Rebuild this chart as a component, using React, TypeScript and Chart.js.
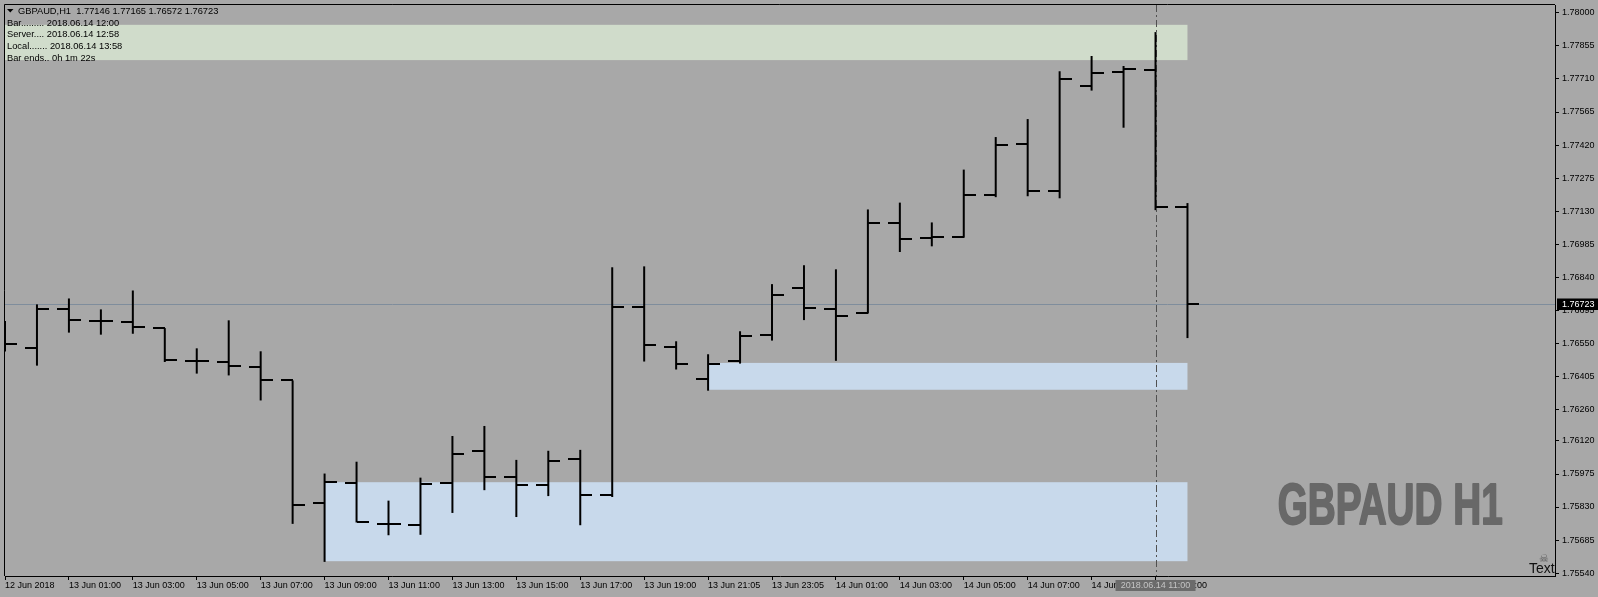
import React, { useEffect, useRef } from "react";
import { Chart, registerables } from "chart.js";

Chart.register(...registerables);

// ---- data (GBPAUD, H1) ----
const opens = [
  1.7656, 1.76529, 1.76699, 1.76647, 1.76644, 1.76616, 1.76472, 1.76469, 1.76446, 1.76386,
  1.75848, 1.75935, 1.75754, 1.7575, 1.75935, 1.76074, 1.7596, 1.75925, 1.76039, 1.75881,
  1.76708, 1.76533, 1.76394, 1.76472, 1.76587, 1.76793, 1.76701, 1.76683, 1.77077, 1.77011,
  1.77014, 1.77202, 1.77426, 1.7722, 1.77681, 1.77741, 1.77749, 1.77146,
];
const highs = [
  1.76647, 1.7672, 1.76746, 1.76698, 1.76781, 1.76616, 1.76527, 1.7665, 1.76514, 1.76386,
  1.75977, 1.76029, 1.75858, 1.75959, 1.76142, 1.76186, 1.76037, 1.76077, 1.76081, 1.76883,
  1.76887, 1.76558, 1.76501, 1.76602, 1.76809, 1.76892, 1.76874, 1.77137, 1.77167, 1.7708,
  1.77312, 1.77455, 1.77534, 1.77744, 1.77811, 1.77767, 1.77916, 1.77165,
];
const lows = [
  1.76513, 1.76451, 1.76596, 1.76587, 1.76591, 1.76467, 1.76416, 1.76408, 1.76298, 1.75756,
  1.75589, 1.75762, 1.75706, 1.75708, 1.75804, 1.75904, 1.75786, 1.75878, 1.7575, 1.75874,
  1.76469, 1.76434, 1.76341, 1.7646, 1.76561, 1.76651, 1.76472, 1.7668, 1.7695, 1.76975,
  1.77013, 1.77191, 1.77195, 1.77186, 1.77659, 1.77496, 1.77134, 1.76572,
];
const closes = [
  1.76548, 1.76699, 1.76651, 1.76647, 1.76621, 1.76476, 1.76472, 1.7645, 1.76389, 1.75841,
  1.75939, 1.75762, 1.75754, 1.75929, 1.76065, 1.75964, 1.75925, 1.7603, 1.75881, 1.76708,
  1.76542, 1.76459, 1.76459, 1.76581, 1.76762, 1.76705, 1.7667, 1.77077, 1.77006, 1.77016,
  1.77202, 1.77421, 1.7722, 1.7771, 1.77736, 1.77754, 1.77147, 1.76723,
];

const xTickIdx = [0, 2, 4, 6, 8, 10, 12, 14, 16, 18, 20, 22, 24, 26, 28, 30, 32, 34, 36];
const xTickLabels = [
  "12 Jun 2018", "13 Jun 01:00", "13 Jun 03:00", "13 Jun 05:00", "13 Jun 07:00",
  "13 Jun 09:00", "13 Jun 11:00", "13 Jun 13:00", "13 Jun 15:00", "13 Jun 17:00",
  "13 Jun 19:00", "13 Jun 21:05", "13 Jun 23:05", "14 Jun 01:00", "14 Jun 03:00",
  "14 Jun 05:00", "14 Jun 07:00", "14 Jun 09:00", "14 Jun 11:00",
];
const yTicks = [
  1.78, 1.77855, 1.7771, 1.77565, 1.7742, 1.77275, 1.7713, 1.76985, 1.7684, 1.76695,
  1.7655, 1.76405, 1.7626, 1.7612, 1.75975, 1.7583, 1.75685, 1.7554,
];

// rectangle objects
const zoneStart = [-1, 22, 10];
const zoneEnd = [37, 37, 37];
const zoneTop = [1.77948, 1.76463, 1.75939];
const zoneBottom = [1.77793, 1.76345, 1.75592];
const zoneColors = ["#d0dccb", "#c8d9eb", "#c8d9eb"];

const bidPrice = 1.76723;
const crossIdx = 36;
const crossLabel = "2018.06.14 11:00";
const headerLines = [
  "Bar......... 2018.06.14 12:00",
  "Server.... 2018.06.14 12:58",
  "Local....... 2018.06.14 13:58",
  "Bar ends.. 0h 1m 22s",
];
const titleText = "GBPAUD,H1  1.77146 1.77165 1.76572 1.76723";
const bigText = "GBPAUD H1";

const BG = "#a8a8a8";
const FONT = "'Liberation Sans', Arial, sans-serif";

export default function App() {
  const ref = useRef<HTMLCanvasElement>(null);

  useEffect(() => {
    const canvas = ref.current!;
    const mk = (left: boolean) => {
      const c = document.createElement("canvas");
      c.width = 24;
      c.height = 2;
      const g = c.getContext("2d")!;
      g.fillStyle = "#000";
      g.fillRect(left ? 0 : 12, 0, 12, 2);
      return c;
    };
    const openImg = mk(true);
    const closeImg = mk(false);
    const idx = highs.map((_, i) => i);

    const decor = {
      id: "decor",
      beforeDraw(chart: any) {
        const ctx = chart.ctx;
        ctx.save();
        ctx.fillStyle = BG;
        ctx.fillRect(0, 0, chart.width, chart.height);
        ctx.restore();
      },
      beforeDatasetsDraw(chart: any) {
        const { ctx, chartArea: a, scales } = chart;
        const xs = scales.x, ys = scales.y;
        ctx.save();
        ctx.beginPath();
        ctx.rect(a.left, a.top, a.right - a.left, a.bottom - a.top);
        ctx.clip();
        for (let k = 0; k < zoneStart.length; k++) {
          const x1 = xs.getPixelForValue(zoneStart[k]);
          const x2 = xs.getPixelForValue(zoneEnd[k]);
          const y1 = ys.getPixelForValue(zoneTop[k]);
          const y2 = ys.getPixelForValue(zoneBottom[k]);
          ctx.fillStyle = zoneColors[k];
          ctx.fillRect(x1, y1, x2 - x1, y2 - y1);
        }
        // bid line
        const by = Math.round(ys.getPixelForValue(bidPrice)) + 0.5;
        ctx.strokeStyle = "#7f8d9c";
        ctx.lineWidth = 1;
        ctx.beginPath();
        ctx.moveTo(a.left, by);
        ctx.lineTo(a.right, by);
        ctx.stroke();
        // crosshair
        const cx = Math.round(xs.getPixelForValue(crossIdx)) + 0.5;
        ctx.strokeStyle = "#505050";
        ctx.setLineDash([7, 3, 2, 3]);
        ctx.beginPath();
        ctx.moveTo(cx, a.top);
        ctx.lineTo(cx, a.bottom);
        ctx.stroke();
        ctx.restore();
        chart.ctx.imageSmoothingEnabled = false;
      },
      afterDatasetsDraw(chart: any) {
        const { ctx, chartArea: a } = chart;
        ctx.save();
        ctx.imageSmoothingEnabled = true;
        ctx.strokeStyle = "#000";
        ctx.lineWidth = 1;
        ctx.beginPath();
        ctx.moveTo(a.left - 0.5, a.bottom);
        ctx.lineTo(a.left - 0.5, a.top - 0.5);
        ctx.lineTo(a.right, a.top - 0.5);
        ctx.stroke();
        ctx.restore();
      },
      afterDraw(chart: any) {
        const { ctx, scales } = chart;
        const xs = scales.x, ys = scales.y;
        ctx.save();
        ctx.imageSmoothingEnabled = true;
        ctx.textBaseline = "middle";
        ctx.textAlign = "left";
        // header
        ctx.fillStyle = "#000";
        ctx.beginPath();
        ctx.moveTo(7, 9);
        ctx.lineTo(13.5, 9);
        ctx.lineTo(10.25, 12.6);
        ctx.closePath();
        ctx.fill();
        ctx.font = `9.3px ${FONT}`;
        ctx.fillText(titleText, 18, 11);
        const ly = [23.3, 34.8, 46.3, 58.5];
        headerLines.forEach((t, i) => ctx.fillText(t, 7, ly[i]));

        // big watermark text
        ctx.font = `bold 57px ${FONT}`;
        const w = ctx.measureText(bigText).width;
        ctx.save();
        ctx.translate(1277, 525);
        ctx.scale(225 / w, 1);
        ctx.textBaseline = "alphabetic";
        ctx.fillStyle = "#686868";
        ctx.strokeStyle = "#686868";
        ctx.lineWidth = 2;
        ctx.lineJoin = "round";
        ctx.strokeText(bigText, 1, -1);
        ctx.fillText(bigText, 1, -1);
        ctx.restore();

        // "Text" label with icon
        ctx.font = `11px 'DejaVu Sans', sans-serif`;
        ctx.fillStyle = "#5a5a5a";
        ctx.textAlign = "center";
        ctx.fillText("\u2620", 1544, 559);
        ctx.textAlign = "left";
        ctx.textBaseline = "alphabetic";
        ctx.font = `14px ${FONT}`;
        ctx.fillStyle = "#111";
        ctx.fillText("Text", 1529, 573);

        // price box
        const py = ys.getPixelForValue(bidPrice);
        ctx.fillStyle = "#000";
        ctx.fillRect(1557, Math.round(py) - 5.5, 41, 11.5);
        ctx.fillStyle = "#fff";
        ctx.font = `9px ${FONT}`;
        ctx.textBaseline = "middle";
        ctx.fillText(bidPrice.toFixed(5), 1562, Math.round(py) + 0.3);

        // crosshair time label
        const cx = xs.getPixelForValue(crossIdx);
        ctx.fillStyle = "#6b6b6b";
        ctx.fillRect(cx - 40, 580, 80, 11);
        ctx.fillStyle = "#c4c4c4";
        ctx.textAlign = "center";
        ctx.fillText(crossLabel, cx, 585.8);
        ctx.restore();
      },
    };

    const tickFont = { family: FONT, size: 9 };
    const chart = new Chart(canvas, {
      type: "bar",
      data: {
        datasets: [
          {
            type: "bar",
            data: idx.map((i) => ({ x: i, y: [lows[i], highs[i]] })),
            backgroundColor: "#000",
            borderWidth: 0,
            barThickness: 2,
            inflateAmount: 0,
            grouped: false,
            order: 2,
          } as any,
          {
            type: "line",
            data: idx.map((i) => ({ x: i, y: opens[i] })),
            showLine: false,
            pointStyle: openImg,
            pointRadius: 1,
            order: 1,
          } as any,
          {
            type: "line",
            data: idx.map((i) => ({ x: i, y: closes[i] })),
            showLine: false,
            pointStyle: closeImg,
            pointRadius: 1,
            order: 1,
          } as any,
        ],
      },
      options: {
        responsive: false,
        animation: false,
        devicePixelRatio: 1,
        events: [],
        layout: { padding: { left: 3, top: 3, right: 0, bottom: 0 } },
        plugins: { legend: { display: false }, tooltip: { enabled: false } },
        scales: {
          x: {
            type: "linear",
            position: "bottom",
            offset: false,
            min: 0,
            max: 48.5,
            afterBuildTicks: (s: any) => {
              s.ticks = xTickIdx.map((v) => ({ value: v }));
            },
            afterFit: (s: any) => {
              s.height = 21;
              s.paddingLeft = 0;
              s.paddingRight = 0;
            },
            ticks: {
              autoSkip: false,
              maxRotation: 0,
              minRotation: 0,
              align: "start",
              padding: 0,
              color: "#000",
              font: tickFont,
              callback: (v: any) => {
                const k = xTickIdx.indexOf(Number(v));
                return k >= 0 ? xTickLabels[k] : "";
              },
            },
            grid: { offset: false, drawOnChartArea: false, drawTicks: true, tickLength: 4, color: "#000" },
            border: { display: true, color: "#000", width: 1 },
          },
          y: {
            type: "linear",
            position: "right",
            min: 1.75527,
            max: 1.78035,
            afterBuildTicks: (s: any) => {
              s.ticks = yTicks.map((v) => ({ value: v }));
            },
            afterFit: (s: any) => {
              s.width = 43;
              s.paddingTop = 0;
              s.paddingBottom = 0;
            },
            ticks: {
              padding: 3,
              color: "#000",
              font: tickFont,
              callback: (v: any) => Number(v).toFixed(5),
            },
            grid: { drawOnChartArea: false, drawTicks: true, tickLength: 4, color: "#000" },
            border: { display: true, color: "#000", width: 1 },
          },
        },
      } as any,
      plugins: [decor],
    });
    return () => chart.destroy();
  }, []);

  return (
    <div style={{ position: "fixed", left: 0, top: 0, width: 1598, height: 597, background: BG }}>
      <canvas ref={ref} width={1598} height={597} style={{ display: "block" }} />
    </div>
  );
}
